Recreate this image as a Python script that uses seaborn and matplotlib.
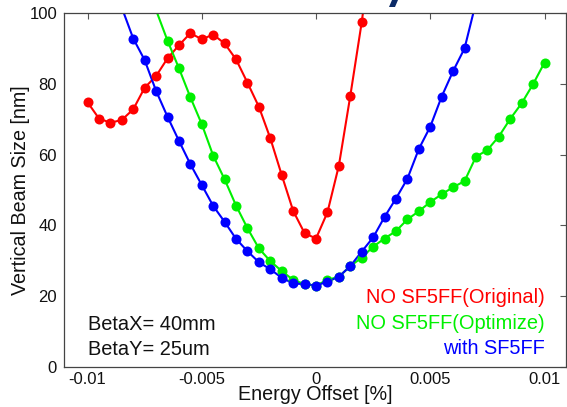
import matplotlib
matplotlib.use("Agg")
import matplotlib.pyplot as plt
import seaborn as sns
import pandas as pd
from matplotlib.patches import Polygon

# ---- data ----
red_x = [-0.01, -0.0095, -0.009, -0.0085, -0.008, -0.0075, -0.007, -0.0065, -0.006, -0.0055,
         -0.005, -0.0045, -0.004, -0.0035, -0.003, -0.0025, -0.002, -0.0015, -0.001, -0.0005,
         0.0, 0.0005, 0.001, 0.0015, 0.002, 0.0025]
red_y = [74.8, 70.2, 69.0, 69.8, 72.8, 78.9, 82.2, 87.2, 90.9, 94.3,
         92.6, 93.9, 91.4, 86.9, 80.3, 73.5, 64.6, 54.2, 44.1, 37.8,
         36.3, 43.7, 56.9, 76.6, 97.4, 122.0]

green_x = [-0.007, -0.0065, -0.006, -0.0055, -0.005, -0.0045, -0.004, -0.0035, -0.003, -0.0025,
           -0.002, -0.0015, -0.001, -0.0005, 0.0, 0.0005, 0.001, 0.0015, 0.002, 0.0025,
           0.003, 0.0035, 0.004, 0.0045, 0.005, 0.0055, 0.006, 0.0065, 0.007, 0.0075,
           0.008, 0.0085, 0.009, 0.0095, 0.01]
green_y = [100.8, 92.2, 84.4, 76.2, 68.6, 59.7, 53.0, 45.6, 39.2, 33.5,
           29.9, 27.1, 24.6, 23.4, 23.0, 24.6, 25.5, 28.5, 30.9, 34.0,
           36.3, 38.4, 41.7, 44.0, 46.6, 48.8, 50.8, 52.5, 59.4, 61.3,
           65.1, 70.1, 74.5, 79.9, 86.0]

blue_x = [-0.0085, -0.008, -0.0075, -0.007, -0.0065, -0.006, -0.0055, -0.005, -0.0045, -0.004,
          -0.0035, -0.003, -0.0025, -0.002, -0.0015, -0.001, -0.0005, 0.0, 0.0005, 0.001,
          0.0015, 0.002, 0.0025, 0.003, 0.0035, 0.004, 0.0045, 0.005, 0.0055, 0.006,
          0.0065, 0.007]
blue_y = [101.5, 92.8, 86.7, 78.0, 70.7, 63.9, 57.3, 51.4, 45.5, 41.0,
          36.2, 32.7, 29.6, 27.6, 25.2, 23.6, 23.4, 23.0, 24.1, 25.5,
          28.5, 32.6, 36.6, 42.4, 47.6, 53.2, 61.6, 67.9, 76.4, 83.6,
          90.0, 103.0]

series_names = ["NO SF5FF(Original)", "NO SF5FF(Optimize)", "with SF5FF"]
series_colors = ["#ff0000", "#00f000", "#0000ff"]
x_ticks = [-0.01, -0.005, 0, 0.005, 0.01]
x_ticklabels = ["-0.01", "-0.005", "0", "0.005", "0.01"]
y_ticks = [0, 20, 40, 60, 80, 100]

# ---- style ----
sns.set_style("white")
plt.rcParams["font.family"] = ["Liberation Sans", "DejaVu Sans"]

fig = plt.figure(figsize=(5.67, 4.07), dpi=100)
ax = fig.add_axes([0.1129, 0.0983, 0.8853, 0.8697])

datasets = [(red_x, red_y), (green_x, green_y), (blue_x, blue_y)]
for (xs, ys), name, col in zip(datasets, series_names, series_colors):
    df = pd.DataFrame({"x": xs, "y": ys})
    sns.lineplot(data=df, x="x", y="y", ax=ax, color=col, linewidth=1.5,
                 sort=False, estimator=None, zorder=2)
    inside = df[df["y"] <= 100]
    sns.scatterplot(data=inside, x="x", y="y", ax=ax, color=col, s=52,
                    edgecolor=col, linewidth=0, zorder=3)

ax.set_xlim(-0.01103, 0.01094)
ax.set_ylim(0, 100)
ax.set_xticks(x_ticks)
ax.set_xticklabels(x_ticklabels)
ax.set_yticks(y_ticks)
ax.tick_params(direction="in", length=4, width=0.8, colors="#555555",
               labelcolor="#111111", labelsize=12, top=True, right=True, pad=5)
ax.tick_params(axis="x", pad=3.5)
for sp in ax.spines.values():
    sp.set_visible(True)
    sp.set_color("#444444")
    sp.set_linewidth(0.9)

ax.set_xlabel("Energy Offset [%]", fontsize=14.2, color="#111111", labelpad=-1.0)
ax.set_ylabel("Vertical Beam Size [nm]", fontsize=14.2, color="#111111", labelpad=-0.5)

# annotations
ax.text(0.048, 0.121, "BetaX= 40mm", transform=ax.transAxes, fontsize=14.4,
        color="#111111", va="center", ha="left")
ax.text(0.048, 0.049, "BetaY= 25um", transform=ax.transAxes, fontsize=14.4,
        color="#111111", va="center", ha="left")
legend_y = [0.195, 0.123, 0.051]
for name, col, yy in zip(series_names, series_colors, legend_y):
    ax.text(0.9577, yy, name, transform=ax.transAxes, fontsize=14.4,
            color=col, va="center", ha="right")

# fragment of a cropped title glyph at the top edge
fig.patches.append(Polygon([[389 / 567, 1 - 7 / 407], [395 / 567, 1 - 7 / 407],
                            [398 / 567, 1.0], [392 / 567, 1.0]],
                           closed=True, transform=fig.transFigure,
                           facecolor="#0b2a66", edgecolor="none"))

fig.savefig("out.png", dpi=100)
